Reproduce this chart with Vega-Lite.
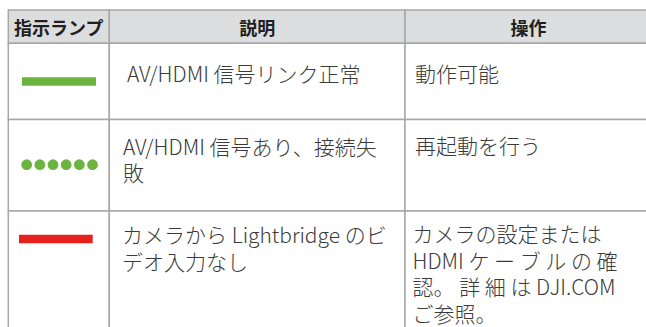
{
  "$schema": "https://vega.github.io/schema/vega-lite/v6.json",
  "width": 646,
  "height": 327,
  "autosize": {"type": "none"},
  "padding": 0,
  "background": "#ffffff",
  "config": {"view": {"stroke": null}, "axis": {"disable": true}},
  "datasets": {
    "cells": [
      {"row": 0, "col": 0}, {"row": 0, "col": 1}, {"row": 0, "col": 2},
      {"row": 1, "col": 0}, {"row": 1, "col": 1}, {"row": 1, "col": 2},
      {"row": 2, "col": 0}, {"row": 2, "col": 1}, {"row": 2, "col": 2},
      {"row": 3, "col": 0}, {"row": 3, "col": 1}, {"row": 3, "col": 2}
    ],
    "header": [
      {"row": 0, "col": 0, "text": "指示ランプ"},
      {"row": 0, "col": 1, "text": "説明"},
      {"row": 0, "col": 2, "text": "操作"}
    ],
    "lamps": [
      {"row": 1, "col": 0, "color": "green", "pattern": "solid"},
      {"row": 2, "col": 0, "color": "green", "pattern": "blinking"},
      {"row": 3, "col": 0, "color": "red", "pattern": "solid"}
    ],
    "body": [
      {"row": 1, "col": 1, "text": "AV/HDMI 信号リンク正常"},
      {"row": 1, "col": 2, "text": "動作可能"},
      {"row": 2, "col": 1, "text": "AV/HDMI 信号あり、接続失\n敗"},
      {"row": 2, "col": 2, "text": "再起動を行う"},
      {"row": 3, "col": 1, "text": "カメラから Lightbridge のビ\nデオ入力なし"},
      {"row": 3, "col": 2, "text": "カメラの設定または\nHDMI ケ ー ブ ル の 確\n認。 詳 細 は DJI.COM\nご参照。"}
    ]
  },
  "encoding": {
    "x": {"field": "col", "type": "quantitative", "axis": null,
          "scale": {"domain": [0, 1, 2, 3], "range": [8.3, 109.3, 405, 652], "zero": false, "nice": false}},
    "y": {"field": "row", "type": "quantitative", "axis": null,
          "scale": {"domain": [0, 1, 2, 3, 4], "range": [10, 43.3, 119.5, 211, 345], "zero": false, "nice": false}}
  },
  "layer": [
    {
      "data": {"name": "cells"},
      "transform": [
        {"calculate": "datum.col + 1", "as": "col1"},
        {"calculate": "datum.row + 1", "as": "row1"}
      ],
      "mark": {"type": "rect", "stroke": "#a8a8a8", "strokeWidth": 1.5},
      "encoding": {
        "x2": {"field": "col1"},
        "y2": {"field": "row1"},
        "fill": {"condition": {"test": "datum.row === 0", "value": "#dcdddf"}, "value": "#ffffff"}
      }
    },
    {
      "data": {"name": "header"},
      "transform": [{"calculate": "datum.col + 0.5", "as": "mid"}],
      "mark": {"type": "text", "align": "center", "baseline": "top", "dy": 10.6, "fontSize": 18, "fontWeight": "bold", "font": "Noto Sans CJK JP", "color": "#231f20"},
      "encoding": {
        "x": {"field": "mid", "type": "quantitative", "axis": null,
              "scale": {"domain": [0, 1, 2, 3], "range": [8.3, 109.3, 405, 652], "zero": false, "nice": false}},
        "text": {"field": "text"}
      }
    },
    {
      "data": {"name": "lamps"},
      "transform": [{"filter": "datum.row === 1"}],
      "mark": {"type": "rule", "xOffset": 13.7, "x2Offset": 87.7, "yOffset": 38.2, "strokeWidth": 8.5, "strokeCap": "butt"},
      "encoding": {
        "x2": {"field": "col"},
        "color": {"field": "color", "type": "nominal", "legend": null, "scale": {"domain": ["green", "red"], "range": ["#6cb43f", "#e4211c"]}}
      }
    },
    {
      "data": {"name": "lamps"},
      "transform": [{"filter": "datum.row === 2"}],
      "mark": {"type": "rule", "xOffset": 18.4, "x2Offset": 85.2, "yOffset": 45.2, "strokeWidth": 10.8, "strokeCap": "round", "strokeDash": [0, 13.16]},
      "encoding": {
        "x2": {"field": "col"},
        "color": {"field": "color", "type": "nominal", "legend": null, "scale": {"domain": ["green", "red"], "range": ["#6cb43f", "#e4211c"]}}
      }
    },
    {
      "data": {"name": "lamps"},
      "transform": [{"filter": "datum.row === 3"}],
      "mark": {"type": "rule", "xOffset": 10.7, "x2Offset": 84.4, "yOffset": 28, "strokeWidth": 8.3, "strokeCap": "butt"},
      "encoding": {
        "x2": {"field": "col"},
        "color": {"field": "color", "type": "nominal", "legend": null, "scale": {"domain": ["green", "red"], "range": ["#6cb43f", "#e4211c"]}}
      }
    },
    {
      "data": {"name": "body"},
      "transform": [{"filter": "datum.row === 1 && datum.col === 1"}],
      "mark": {"type": "text", "align": "left", "baseline": "top", "dx": 17.7, "dy": 21.5, "fontSize": 21, "fontWeight": 300, "font": "Noto Sans CJK JP", "color": "#3a3a3a", "lineBreak": "\n", "lineHeight": 26.7},
      "encoding": {"text": {"field": "text"}}
    },
    {
      "data": {"name": "body"},
      "transform": [{"filter": "datum.row === 1 && datum.col === 2"}],
      "mark": {"type": "text", "align": "left", "baseline": "top", "dx": 10, "dy": 21.5, "fontSize": 21, "fontWeight": 300, "font": "Noto Sans CJK JP", "color": "#3a3a3a", "lineBreak": "\n", "lineHeight": 26.7},
      "encoding": {"text": {"field": "text"}}
    },
    {
      "data": {"name": "body"},
      "transform": [{"filter": "datum.row === 2 && datum.col === 1"}],
      "mark": {"type": "text", "align": "left", "baseline": "top", "dx": 13.7, "dy": 18, "fontSize": 21, "fontWeight": 300, "font": "Noto Sans CJK JP", "color": "#3a3a3a", "lineBreak": "\n", "lineHeight": 26.5},
      "encoding": {"text": {"field": "text"}}
    },
    {
      "data": {"name": "body"},
      "transform": [{"filter": "datum.row === 2 && datum.col === 2"}],
      "mark": {"type": "text", "align": "left", "baseline": "top", "dx": 10, "dy": 17, "fontSize": 21, "fontWeight": 300, "font": "Noto Sans CJK JP", "color": "#3a3a3a", "lineBreak": "\n", "lineHeight": 26.5},
      "encoding": {"text": {"field": "text"}}
    },
    {
      "data": {"name": "body"},
      "transform": [{"filter": "datum.row === 3 && datum.col === 1"}],
      "mark": {"type": "text", "align": "left", "baseline": "top", "dx": 12.8, "dy": 15.3, "fontSize": 21, "fontWeight": 300, "font": "Noto Sans CJK JP", "color": "#3a3a3a", "lineBreak": "\n", "lineHeight": 27},
      "encoding": {"text": {"field": "text"}}
    },
    {
      "data": {"name": "body"},
      "transform": [{"filter": "datum.row === 3 && datum.col === 2"}],
      "mark": {"type": "text", "align": "left", "baseline": "top", "dx": 7.5, "dy": 14, "fontSize": 21, "fontWeight": 300, "font": "Noto Sans CJK JP", "color": "#3a3a3a", "lineBreak": "\n", "lineHeight": 26.7},
      "encoding": {"text": {"field": "text"}}
    }
  ]
}
